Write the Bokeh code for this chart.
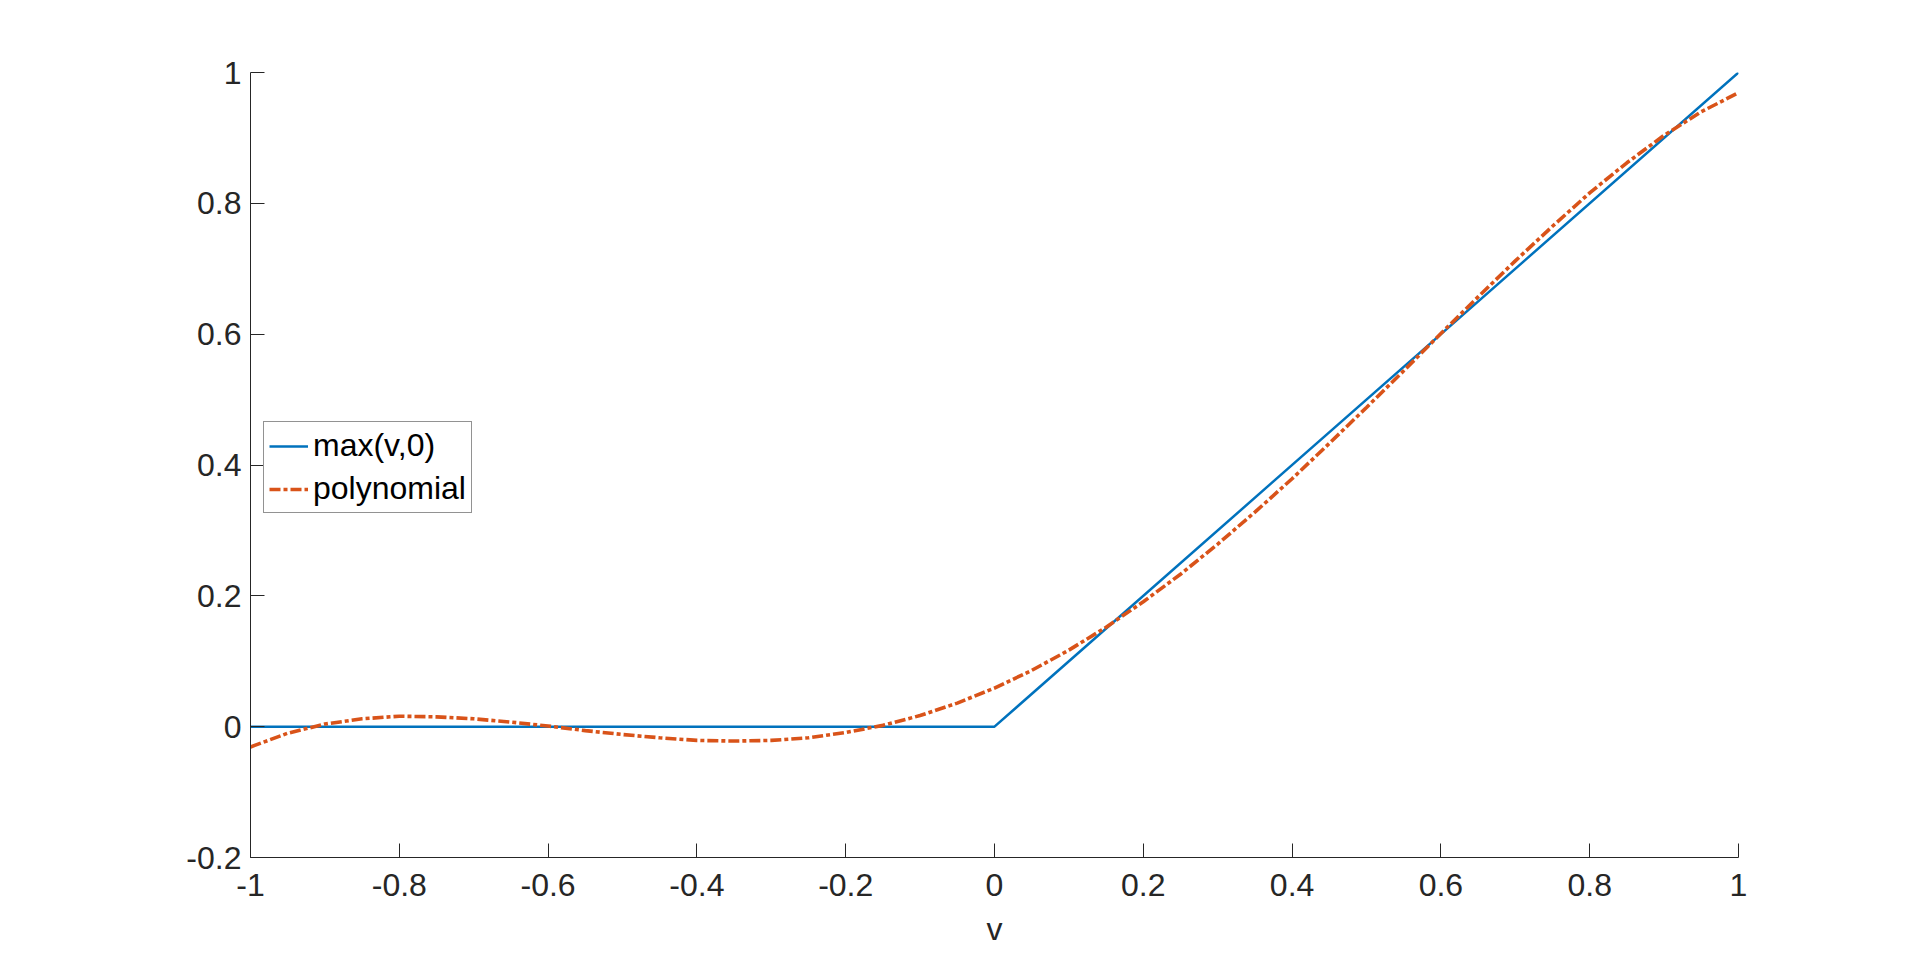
from bokeh.plotting import figure
from bokeh.models import Range1d, FixedTicker, Legend, LegendItem
from bokeh.embed import file_html
from bokeh.resources import INLINE

# ---- data ----
relu_v = [-1.0, 0.0, 1.0]
relu_y = [0.0, 0.0, 1.0]

poly_v = [-1.00, -0.95, -0.90, -0.85, -0.80, -0.75, -0.70, -0.65, -0.60, -0.55,
          -0.50, -0.45, -0.40, -0.35, -0.30, -0.25, -0.20, -0.15, -0.10, -0.05,
          0.00, 0.05, 0.10, 0.15, 0.20, 0.25, 0.30, 0.35, 0.40, 0.45,
          0.50, 0.55, 0.60, 0.65, 0.70, 0.75, 0.80, 0.85, 0.90, 0.95, 1.00]
poly_y = [-0.031, -0.010, 0.004, 0.012, 0.016, 0.015, 0.012, 0.007, 0.001, -0.006,
          -0.012, -0.017, -0.021, -0.022, -0.021, -0.017, -0.009, 0.002, 0.017, 0.036,
          0.059, 0.086, 0.117, 0.152, 0.191, 0.233, 0.279, 0.328, 0.379, 0.433,
          0.488, 0.544, 0.601, 0.657, 0.712, 0.765, 0.816, 0.862, 0.904, 0.940, 0.969]

x_ticks = [-1.0, -0.8, -0.6, -0.4, -0.2, 0.0, 0.2, 0.4, 0.6, 0.8, 1.0]
x_tick_labels = ["-1", "-0.8", "-0.6", "-0.4", "-0.2", "0", "0.2", "0.4", "0.6", "0.8", "1"]
y_ticks = [-0.2, 0.0, 0.2, 0.4, 0.6, 0.8, 1.0]
y_tick_labels = ["-0.2", "0", "0.2", "0.4", "0.6", "0.8", "1"]

series_names = ["max(v,0)", "polynomial"]
x_label = "v"

FONT = "Liberation Sans"
AXC = "#262626"

p = figure(frame_width=1488, frame_height=785,
           min_border_left=250, min_border_top=72, min_border_right=100, min_border_bottom=100,
           x_range=Range1d(-1, 1), y_range=Range1d(-0.2, 1),
           output_backend="svg", toolbar_location=None,
           background_fill_color="white", border_fill_color="white")
p.outline_line_color = None
p.xgrid.visible = False
p.ygrid.visible = False

r1 = p.line(relu_v, relu_y, line_color="#0072BD", line_width=2.5)
r2 = p.line(poly_v, poly_y, line_color="#D95319", line_width=3.6, line_dash="11 3 4 3")

for ax, ticks, labels in ((p.xaxis[0], x_ticks, x_tick_labels), (p.yaxis[0], y_ticks, y_tick_labels)):
    ax.ticker = FixedTicker(ticks=ticks)
    ax.major_label_overrides = {t: l for t, l in zip(ticks, labels)}
    ax.minor_tick_line_color = None
    ax.major_tick_in = 14
    ax.major_tick_out = 0
    ax.axis_line_color = AXC
    ax.major_tick_line_color = AXC
    ax.major_label_text_color = AXC
    ax.major_label_text_font = FONT
    ax.major_label_text_font_size = "32px"
    ax.axis_label_text_font = FONT
    ax.axis_label_text_font_size = "32px"
    ax.axis_label_text_color = AXC
    ax.axis_label_text_font_style = "normal"

p.xaxis[0].major_label_standoff = 16
p.yaxis[0].major_label_standoff = 9
p.xaxis[0].axis_label = x_label
p.xaxis[0].axis_label_standoff = 12

legend = Legend(items=[LegendItem(label=series_names[0], renderers=[r1]),
                       LegendItem(label=series_names[1], renderers=[r2])],
                location=(13, 344))
legend.label_text_font = FONT
legend.label_text_font_size = "32px"
legend.label_text_color = "black"
legend.border_line_color = AXC
legend.border_line_width = 1
legend.background_fill_color = "white"
legend.background_fill_alpha = 1
legend.glyph_width = 39
legend.glyph_height = 32
legend.label_height = 32
legend.label_standoff = 5
legend.padding = 5
legend.spacing = 6
legend.margin = 0
p.add_layout(legend, "center")

open("out.html", "w").write(file_html(p, INLINE))
